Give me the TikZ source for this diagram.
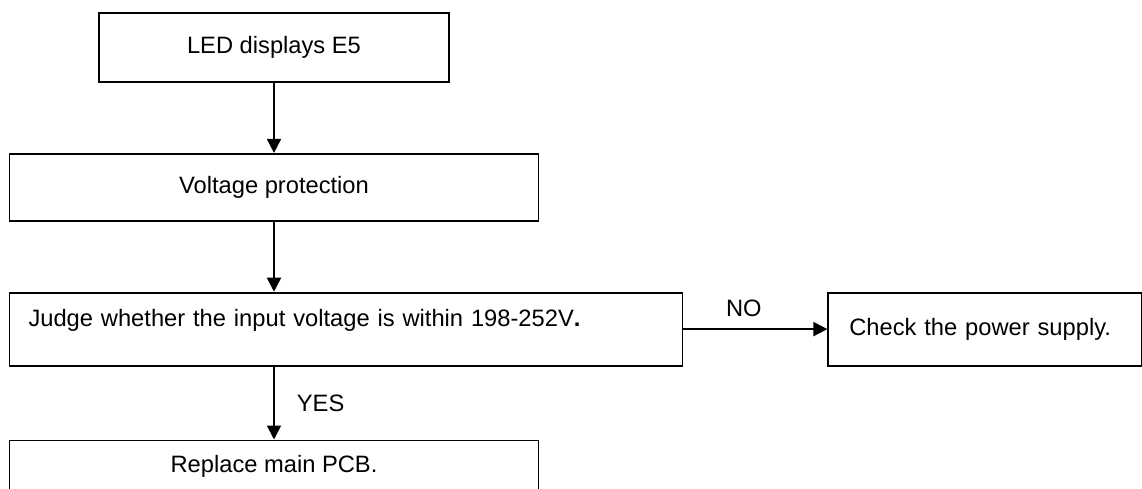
\documentclass[tikz,border=0pt]{standalone}
\usepackage{fontspec}
\setmainfont{Liberation Sans}
\usetikzlibrary{arrows.meta, positioning}

\begin{document}
\begin{tikzpicture}[
  x=0.5pt, y=-0.5pt,
  box/.style={draw, line width=0.9pt, inner sep=0pt, align=center,
              font=\fontsize{11.85}{14}\selectfont},
  arr/.style={-{Triangle[length=7pt, width=7pt]}, line width=0.9pt},
  lbl/.style={font=\fontsize{11.85}{14}\selectfont, inner sep=0pt}
]
  \useasboundingbox (0,0) rectangle (1142,488);

  % Main chain
  \node[box, minimum width=175pt, minimum height=34.5pt] (led) at (274,47.5) {LED displays E5};
  \node[box, minimum width=264.5pt, minimum height=33.5pt, below=35pt of led] (volt) {Voltage protection};
  \node[box, align=left, text width=317.5pt, inner xsep=9.5pt, minimum height=36.5pt,
        text depth=11pt, below right=35pt and 0pt of volt.south west] (judge)
        {Judge whether the input voltage is within 198-252V\textbf{.}};
  \node[box, minimum width=264.5pt, minimum height=26pt,
        below right=36.5pt and 0pt of judge.south west] (pcb) {Replace main PCB.};

  % Branch
  \node[box, align=left, text width=136pt, inner xsep=10.5pt, minimum height=36.5pt,
        right=72pt of judge] (power) {Check the power supply.};

  \draw[arr] (led) -- (volt);
  \draw[arr] (volt.south) -- (volt.south |- judge.north);
  \draw[arr] (volt.south |- judge.south) -- node[lbl, right=11pt] {YES} (volt.south |- pcb.north);
  \draw[arr] (judge) -- node[lbl, above=5.5pt, pos=0.42] {NO} (power);
\end{tikzpicture}
\end{document}
